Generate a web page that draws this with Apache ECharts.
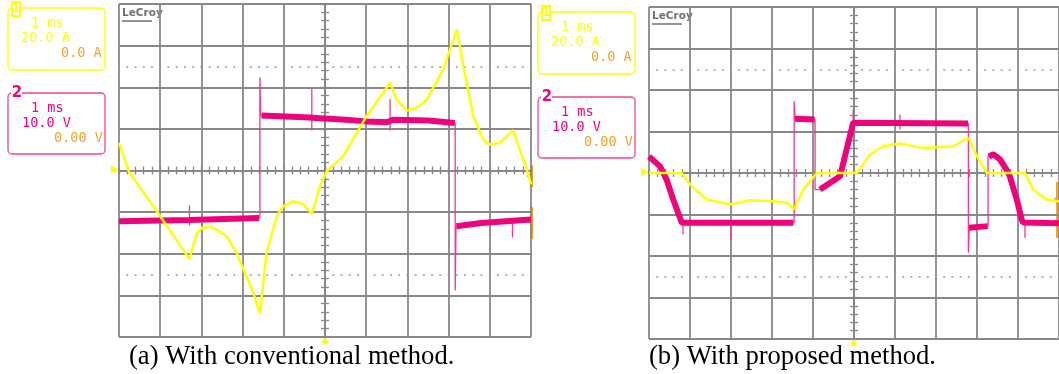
<!DOCTYPE html>
<html>
<head>
<meta charset="utf-8">
<script src="https://cdn.jsdelivr.net/npm/echarts@6/dist/echarts.min.js"></script>
<style>
html, body { margin: 0; padding: 0; background: #fff; }
#chart { width: 1059px; height: 374px; }
</style>
</head>
<body>
<div id="chart"></div>
<script>
// time in ms (trigger at screen centre), current in A (ch1), voltage in V (ch2)
const convCurrent = [
  [-5.00, 13.3], [-4.76, -0.5], [-4.08, -19.7], [-3.29, -42.5], [-3.11, -30.0], [-2.96, -27.4],
  [-2.79, -27.0], [-2.63, -28.4], [-2.39, -31.6], [-2.14, -39.6], [-1.98, -47.6], [-1.77, -57.0],
  [-1.58, -68.8], [-1.42, -39.6], [-1.17, -22.0], [-1.01, -17.2], [-0.77, -14.8], [-0.53, -16.3],
  [-0.32, -20.7], [-0.12, -7.5], [0.04, -0.5], [0.44, 6.9], [1.01, 26.1], [1.58, 42.2],
  [1.74, 34.1], [1.98, 28.8], [2.22, 30.1], [2.47, 34.1], [2.87, 48.6], [3.20, 67.8],
  [3.36, 50.1], [3.60, 26.1], [3.84, 14.9], [4.00, 12.5], [4.25, 13.3], [4.56, 19.4],
  [4.90, 0.5], [5.00, -6.7]
];
const convVoltage = [
  [-5.00, -12.2], [-1.58, -11.4], [-1.58, 22.4], [-1.56, 13.1], [3.16, 11.5],
  [3.16, -28.8], [3.18, -13.4], [5.00, -11.8]
];
const convVoltageBand = [
  [[-5.00, -12.2], [-3.30, -11.9], [-1.60, -11.4]],
  [[-1.54, 13.2], [-0.50, 12.8], [0.50, 12.2], [1.00, 11.8], [1.50, 11.6], [1.65, 12.2], [2.50, 12.0], [3.15, 11.4]],
  [[3.19, -13.4], [3.79, -12.6], [5.00, -11.8]]
];
const convVoltageSpikes = [[-3.29, -8.4, -13.2], [-0.32, 19.7, 9.6], [1.58, 17.1, 9.6], [4.55, -11.5, -16.1]];

const propCurrent = [
  [-5.00, 0], [-4.20, 0], [-4.00, -5.5], [-3.59, -12.8], [-3.02, -15.2], [-2.54, -13.1],
  [-1.97, -13.6], [-1.64, -14.4], [-1.46, -17.3], [-1.24, -8.0], [-0.91, 0], [0.07, 0],
  [0.39, 8.9], [0.71, 12.9], [1.12, 14.2], [1.69, 12.1], [2.42, 12.9], [2.79, 17.0],
  [3.00, 8.1], [3.24, 0], [4.17, 0], [4.37, -8.0], [4.70, -12.8], [5.00, -13.6]
];
const propVoltage = [
  [-5.00, 4.0], [-4.73, 1.6], [-4.57, -1.6], [-4.41, -6.4], [-4.20, -12.0], [-1.46, -12.0],
  [-1.46, 17.3], [-1.44, 13.1], [-0.95, 12.9], [-0.95, -4.0], [-0.83, -4.0], [-0.68, -3.0],
  [-0.34, -0.8], [-0.18, 5.7], [-0.02, 12.1], [2.79, 11.9], [2.79, -19.2], [2.81, -13.2],
  [3.27, -12.8], [3.27, 4.0], [3.40, 4.5], [3.56, 3.3], [3.72, 0.8], [3.80, -0.8],
  [3.97, -6.4], [4.09, -11.2], [4.12, -11.9], [5.00, -12.1]
];
const propVoltageBand = [
  [[-5.00, 4.0], [-4.73, 1.6], [-4.57, -1.6], [-4.41, -6.4], [-4.20, -12.0], [-1.48, -12.0]],
  [[-1.44, 13.1], [-0.96, 12.9]],
  [[-0.83, -4.0], [-0.68, -3.0], [-0.34, -0.8], [-0.18, 5.7], [-0.02, 12.1], [2.78, 11.9]],
  [[2.81, -13.2], [3.26, -12.8]],
  [[3.29, 4.0], [3.40, 4.5], [3.56, 3.3], [3.72, 0.8], [3.80, -0.8], [3.97, -6.4], [4.09, -11.2], [4.12, -11.9], [5.00, -12.1]]
];
const propVoltageSpikes = [[-4.17, -11.0, -14.8], [-3.00, -11.5, -16.0], [-0.02, 15.3, 8.8], [1.12, 14.1, 10.5], [4.17, -11.5, -15.6]];

const ch1Text = ['1 ms', '20.0 A', '0.0 A'];
const ch2Text = ['1 ms', '10.0 V', '0.00 V'];
const captions = ['(a) With conventional method.', '(b) With proposed method.'];

const GRID = '#888888';
const YELLOW = '#ffff00';
const PINK = '#ee037c';
const PINK_THIN = '#f5358f';
const ORANGE = '#f3a22c';
const MONO = '13.5px "DejaVu Sans Mono"';

const scopes = [
  { left: 119, top: 4, width: 412, height: 333, boxX: 8, boxY: [8, 93], dash: [2, 6.24], capX: 129,
    current: convCurrent, voltage: convVoltage, band: convVoltageBand, spikes: convVoltageSpikes },
  { left: 649, top: 7, width: 410, height: 332, boxX: 538, boxY: [12, 97], dash: [2, 6.2], capX: 649,
    current: propCurrent, voltage: propVoltage, band: propVoltageBand, spikes: propVoltageSpikes }
];

function joinSegments(segs) {
  let out = [];
  segs.forEach(function (s, i) {
    if (i > 0) out.push([null, null]);
    out = out.concat(s);
  });
  return out;
}
function spikeLines(spikes) {
  const out = [];
  spikes.forEach(function (s) {
    out.push([s[0], s[1]], [s[0], s[2]], [null, null]);
  });
  return out;
}

const lineSt = { color: GRID, width: 1.8 };
const grids = [], xAxes = [], yAxes = [], series = [], graphic = [];

scopes.forEach(function (sc, i) {
  grids.push({ left: sc.left, top: sc.top, width: sc.width, height: sc.height, outerBoundsMode: 'none', containLabel: false });
  const axisBase = {
    gridIndex: i, type: 'value',
    axisLine: { show: true, onZero: true, lineStyle: lineSt },
    axisTick: { show: true, inside: false, length: 4, lineStyle: { color: GRID, width: 1.3 } },
    minorTick: { show: true, splitNumber: 5, length: 4, lineStyle: { color: GRID, width: 1.3 } },
    axisLabel: { show: false },
    minorSplitLine: { show: false }
  };
  xAxes.push(Object.assign({}, axisBase, { min: -5, max: 5, interval: 1, position: 'bottom', splitLine: { show: true, lineStyle: lineSt } }));
  xAxes.push(Object.assign({}, axisBase, { min: -5, max: 5, interval: 1, position: 'top', splitLine: { show: false } }));
  yAxes.push(Object.assign({}, axisBase, { min: -80, max: 80, interval: 20, position: 'left', splitLine: { show: true, lineStyle: lineSt } }));
  yAxes.push(Object.assign({}, axisBase, { min: -40, max: 40, interval: 10, position: 'right', splitLine: { show: false } }));

  const common = { type: 'line', xAxisIndex: 2 * i, symbol: 'none', animation: false, silent: true, connectNulls: false };
  series.push(Object.assign({}, common, { yAxisIndex: 2 * i + 1, z: 3, data: sc.voltage, lineStyle: { color: PINK_THIN, width: 1.3 } }));
  series.push(Object.assign({}, common, { yAxisIndex: 2 * i + 1, z: 3, data: spikeLines(sc.spikes), lineStyle: { color: PINK_THIN, width: 1.3 } }));
  series.push(Object.assign({}, common, { yAxisIndex: 2 * i + 1, z: 4, data: joinSegments(sc.band), lineStyle: { color: PINK, width: 6 } }));
  series.push(Object.assign({}, common, {
    yAxisIndex: 2 * i, z: 5, data: sc.current, lineStyle: { color: YELLOW, width: 2.5 },
    markLine: { silent: true, symbol: 'none', label: { show: false },
      lineStyle: { color: '#9a9a9a', width: 1.6, type: sc.dash, dashOffset: 1 },
      data: [{ yAxis: 50 }, { yAxis: -50 }] }
  }));

  // channel readout boxes
  const bx = sc.boxX;
  const b1 = sc.boxY[0], b2 = sc.boxY[1];
  graphic.push({ type: 'rect', shape: { x: bx, y: b1, width: 97, height: 62, r: 4 }, style: { fill: 'none', stroke: YELLOW, lineWidth: 1.3 } });
  graphic.push({ type: 'rect', shape: { x: bx + 4, y: b1 - 6, width: 8, height: 14 }, style: { fill: '#fff', stroke: YELLOW, lineWidth: 2 } });
  graphic.push({ type: 'text', x: bx + 8, y: b1 + 1, style: { text: '1', fill: YELLOW, font: 'bold 12px "DejaVu Sans"', textAlign: 'center', textVerticalAlign: 'middle' } });
  graphic.push({ type: 'text', x: bx + 23, y: b1 + 15.5, style: { text: ch1Text[0], fill: YELLOW, font: MONO, textVerticalAlign: 'middle' } });
  graphic.push({ type: 'text', x: bx + 13, y: b1 + 30.5, style: { text: ch1Text[1], fill: YELLOW, font: MONO, textVerticalAlign: 'middle' } });
  graphic.push({ type: 'text', x: bx + 53, y: b1 + 45.5, style: { text: ch1Text[2], fill: ORANGE, font: MONO, textVerticalAlign: 'middle' } });

  graphic.push({ type: 'rect', shape: { x: bx, y: b2, width: 97, height: 61, r: 4 }, style: { fill: 'none', stroke: '#f2468f', lineWidth: 1.3 } });
  graphic.push({ type: 'rect', shape: { x: bx + 3, y: b2 - 7, width: 11, height: 12 }, style: { fill: '#fff' } });
  graphic.push({ type: 'text', x: bx + 9, y: b2, style: { text: '2', fill: PINK, font: 'bold 15px "DejaVu Sans"', textAlign: 'center', textVerticalAlign: 'middle' } });
  graphic.push({ type: 'text', x: bx + 23, y: b2 + 15, style: { text: ch2Text[0], fill: PINK, font: MONO, textVerticalAlign: 'middle' } });
  graphic.push({ type: 'text', x: bx + 14, y: b2 + 30.5, style: { text: ch2Text[1], fill: PINK, font: MONO, textVerticalAlign: 'middle' } });
  graphic.push({ type: 'text', x: bx + 46, y: b2 + 45, style: { text: ch2Text[2], fill: ORANGE, font: MONO, textVerticalAlign: 'middle' } });

  // LeCroy logo
  graphic.push({ type: 'text', x: sc.left + 3, y: sc.top + 9.5, style: { text: 'LeCroy', fill: '#707070', font: 'bold 10.5px "DejaVu Sans"', textVerticalAlign: 'middle' } });
  graphic.push({ type: 'line', shape: { x1: sc.left + 3, y1: sc.top + 17, x2: sc.left + 33, y2: sc.top + 17 }, style: { stroke: '#707070', lineWidth: 1.5 } });

  // trigger markers
  const cy = sc.top + sc.height / 2;
  const cx = sc.left + sc.width / 2;
  graphic.push({ type: 'polygon', shape: { points: [[sc.left - 8, cy - 5], [sc.left, cy - 1], [sc.left - 8, cy + 3]] }, style: { fill: YELLOW } });
  graphic.push({ type: 'polygon', shape: { points: [[cx, sc.top + sc.height + 1], [cx + 4, sc.top + sc.height + 5], [cx, sc.top + sc.height + 7], [cx - 4, sc.top + sc.height + 5]] }, style: { fill: YELLOW } });

  // caption
  graphic.push({ type: 'text', x: sc.capX, y: 357, style: { text: captions[i], fill: '#000', font: '26.6px "Liberation Serif"', textVerticalAlign: 'middle' } });
});

// offset markers at right edges
graphic.push({ type: 'rect', shape: { x: 530, y: 165, width: 3, height: 22 }, style: { fill: ORANGE } });
graphic.push({ type: 'rect', shape: { x: 530, y: 207, width: 3, height: 32 }, style: { fill: ORANGE } });
graphic.push({ type: 'polygon', shape: { points: [[526, 176], [532, 172], [532, 180]] }, style: { fill: ORANGE } });
graphic.push({ type: 'polygon', shape: { points: [[526, 221], [532, 217], [532, 225]] }, style: { fill: ORANGE } });
graphic.push({ type: 'rect', shape: { x: 1056, y: 182, width: 3, height: 56 }, style: { fill: ORANGE } });
graphic.push({ type: 'polygon', shape: { points: [[1052, 200], [1058, 196], [1058, 204]] }, style: { fill: ORANGE } });
graphic.push({ type: 'polygon', shape: { points: [[1052, 222], [1058, 218], [1058, 226]] }, style: { fill: ORANGE } });

const chart = echarts.init(document.getElementById('chart'), null, { renderer: 'canvas' });
chart.setOption({
  animation: false,
  backgroundColor: '#fff',
  grid: grids,
  xAxis: xAxes,
  yAxis: yAxes,
  series: series,
  graphic: graphic
});
</script>
</body>
</html>
